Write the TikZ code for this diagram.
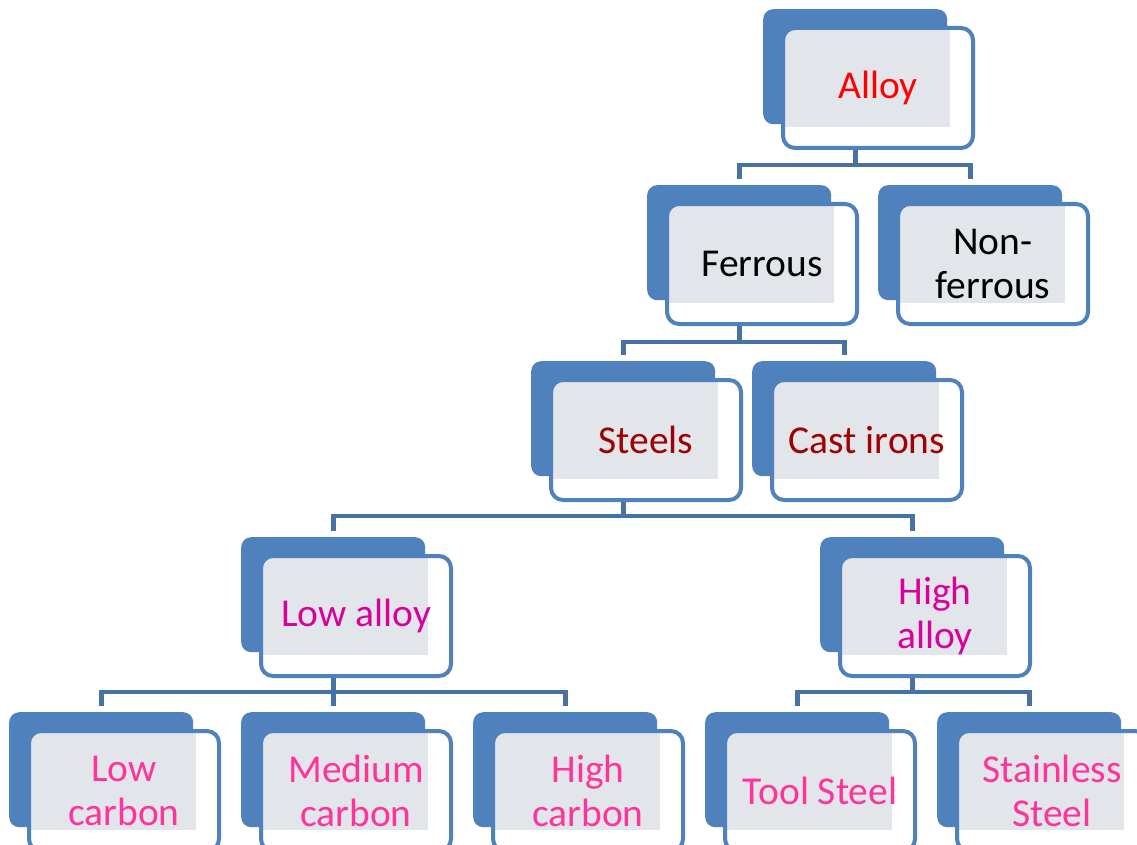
\documentclass[tikz,border=0pt]{standalone}
\usepackage{fontspec}
\setmainfont{Carlito}
\usetikzlibrary{calc}
\definecolor{backblue}{HTML}{4F81BD}
\definecolor{connblue}{HTML}{4672A6}
\definecolor{texfill}{HTML}{E2E5EA}
\definecolor{tred}{HTML}{FF0000}
\definecolor{tdarkred}{HTML}{A00000}
\definecolor{tmagenta}{HTML}{D9009B}
\definecolor{tpink}{HTML}{FF3399}
\tikzset{
  backbox/.style={fill=backblue, rounded corners=10pt, minimum width=184pt,
    minimum height=115pt, inner sep=0pt, anchor=north west},
  frontbox/.style={draw=backblue, line width=4pt, fill=white, rounded corners=12pt,
    minimum width=190pt, minimum height=120pt, inner sep=0pt, anchor=north west,
    align=center, font=\fontsize{39.5}{44}\selectfont,
    path picture={\fill[texfill, sharp corners] ([xshift=2pt,yshift=-2pt]path picture bounding box.north west) rectangle ++(165,97);}},
  conn/.style={draw=connblue, line width=4.8pt, line join=miter}
}
\newcommand\mkbox[5]{%
  \node[backbox] (#1-b) at (#2,#3) {};
  \node[frontbox, text=#4] (#1-f) at (#2+18,#3+17) {#5};
}
\newcommand\link[3]{% parent, child, bus y
  \draw[conn] (#1-b.center |- #1-f.south) -- (#1-b.center |- 0,#3) -| ([yshift=6pt]#2-b.north);
}
\begin{document}
\begin{tikzpicture}[x=1pt,y=-1pt]
\useasboundingbox (0,0) rectangle (1137,845);
\clip (0,0) rectangle (1137,845);
\mkbox{alloy}{763}{9}{tred}{Alloy}
\mkbox{fer}{647}{185}{black}{Ferrous}
\mkbox{nonfer}{878}{185}{black}{Non-\\ferrous}
\mkbox{steels}{531}{361}{tdarkred}{Steels}
\mkbox{cast}{752}{361}{tdarkred}{Cast irons}
\mkbox{lowa}{241}{537}{tmagenta}{Low alloy}
\mkbox{higha}{820}{537}{tmagenta}{High\\alloy}
\mkbox{lowc}{9}{712}{tpink}{Low\\carbon}
\mkbox{medc}{241}{712}{tpink}{Medium\\carbon}
\mkbox{highc}{473}{712}{tpink}{High\\carbon}
\mkbox{tool}{705}{712}{tpink}{Tool Steel}
\mkbox{stain}{937}{712}{tpink}{Stainless\\Steel}
\link{alloy}{fer}{165}
\link{alloy}{nonfer}{165}
\link{fer}{steels}{342}
\link{fer}{cast}{342}
\link{steels}{lowa}{516}
\link{steels}{higha}{516}
\link{lowa}{lowc}{692}
\link{lowa}{medc}{692}
\link{lowa}{highc}{692}
\link{higha}{tool}{692}
\link{higha}{stain}{692}
\end{tikzpicture}
\end{document}
